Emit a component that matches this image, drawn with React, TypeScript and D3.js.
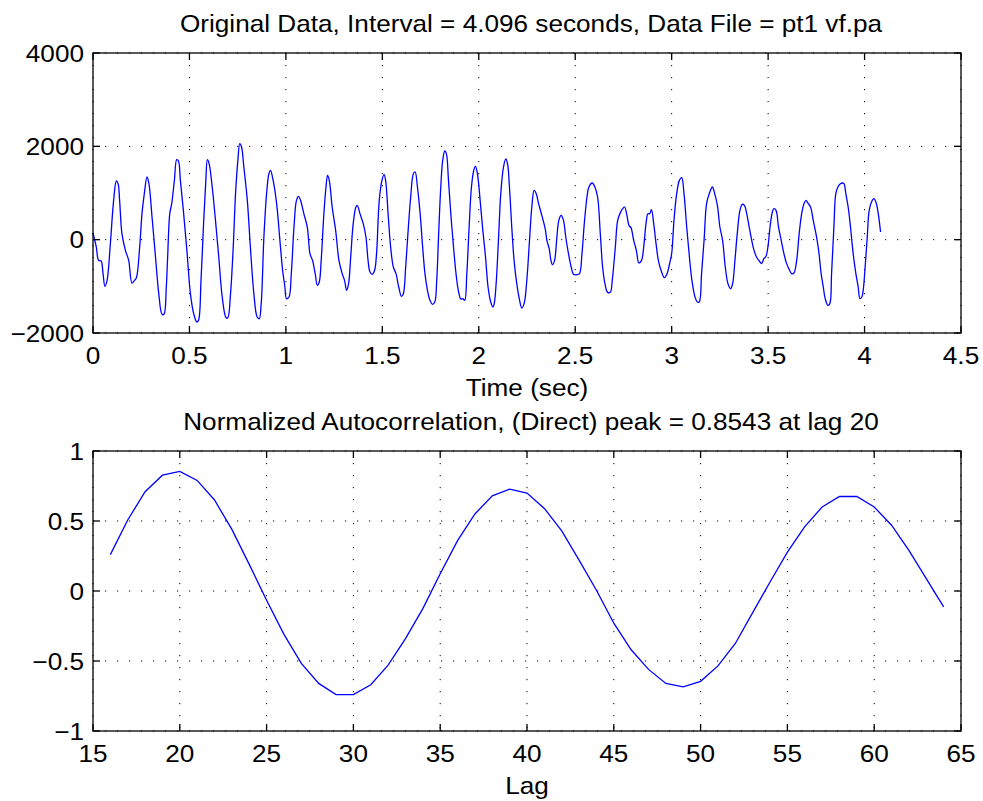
import React from "react";
import * as d3 from "d3";

const W = 983;
const H = 801;
const FONT = "'Liberation Sans', Arial, Helvetica, sans-serif";
const STRETCH = 1.09; // reference glyphs are a bit wider than Arial

// top panel: raw signal (time in seconds, amplitude)
const timeSec = [
  0, 0.017, 0.029, 0.042, 0.052, 0.062, 0.073, 0.09, 0.107, 0.121, 0.13, 0.138, 0.15, 0.168, 0.185,
  0.202, 0.215, 0.225, 0.242, 0.254, 0.266, 0.28, 0.29, 0.306, 0.324, 0.341, 0.358, 0.368, 0.38,
  0.387, 0.398, 0.408, 0.422, 0.434, 0.443, 0.453, 0.47, 0.488, 0.505, 0.522, 0.538, 0.547, 0.56,
  0.574, 0.585, 0.593, 0.602, 0.618, 0.635, 0.652, 0.67, 0.69, 0.699, 0.713, 0.727, 0.739, 0.751,
  0.761, 0.77, 0.782, 0.8, 0.817, 0.834, 0.851, 0.862, 0.872, 0.886, 0.9, 0.912, 0.92, 0.934, 0.952,
  0.969, 0.983, 0.995, 1.003, 1.016, 1.028, 1.042, 1.055, 1.066, 1.076, 1.093, 1.111, 1.125, 1.138,
  1.152, 1.163, 1.173, 1.183, 1.197, 1.208, 1.216, 1.225, 1.24, 1.258, 1.275, 1.292, 1.304, 1.315,
  1.325, 1.336, 1.349, 1.363, 1.37, 1.384, 1.401, 1.415, 1.426, 1.436, 1.448, 1.46, 1.47, 1.484,
  1.498, 1.509, 1.517, 1.531, 1.543, 1.557, 1.571, 1.585, 1.599, 1.609, 1.621, 1.635, 1.647, 1.661,
  1.67, 1.682, 1.696, 1.709, 1.721, 1.734, 1.747, 1.76, 1.772, 1.782, 1.792, 1.803, 1.813, 1.824,
  1.832, 1.843, 1.855, 1.869, 1.882, 1.894, 1.907, 1.917, 1.927, 1.938, 1.95, 1.962, 1.974, 1.983,
  1.993, 2.007, 2.021, 2.035, 2.048, 2.062, 2.073, 2.08, 2.09, 2.102, 2.114, 2.128, 2.14, 2.149,
  2.159, 2.171, 2.183, 2.197, 2.211, 2.223, 2.235, 2.249, 2.263, 2.275, 2.287, 2.298, 2.31, 2.322,
  2.336, 2.346, 2.353, 2.365, 2.374, 2.382, 2.393, 2.405, 2.415, 2.427, 2.439, 2.451, 2.465, 2.479,
  2.491, 2.509, 2.522, 2.535, 2.547, 2.561, 2.571, 2.588, 2.602, 2.616, 2.63, 2.642, 2.654, 2.668,
  2.682, 2.692, 2.708, 2.72, 2.734, 2.746, 2.756, 2.768, 2.779, 2.789, 2.803, 2.817, 2.83, 2.844,
  2.855, 2.867, 2.877, 2.886, 2.895, 2.907, 2.919, 2.931, 2.945, 2.962, 2.976, 2.99, 3.0, 3.012,
  3.026, 3.04, 3.052, 3.064, 3.078, 3.092, 3.105, 3.121, 3.133, 3.143, 3.155, 3.168, 3.181, 3.195,
  3.211, 3.223, 3.237, 3.25, 3.264, 3.278, 3.292, 3.306, 3.316, 3.328, 3.34, 3.354, 3.366, 3.377,
  3.389, 3.402, 3.415, 3.427, 3.44, 3.454, 3.466, 3.478, 3.489, 3.499, 3.51, 3.522, 3.53, 3.541,
  3.554, 3.568, 3.582, 3.596, 3.61, 3.622, 3.634, 3.648, 3.661, 3.674, 3.686, 3.696, 3.706, 3.72,
  3.734, 3.748, 3.762, 3.775, 3.786, 3.796, 3.81, 3.82, 3.829, 3.841, 3.851, 3.862, 3.872, 3.883,
  3.893, 3.903, 3.915, 3.927, 3.941, 3.955, 3.967, 3.976, 3.986, 3.993, 4.003, 4.014, 4.024, 4.036,
  4.048, 4.059, 4.071, 4.083,
];
const amplitude = [
  143, -157, -443, -457, -729, -1000, -871, -86, 843, 1257, 1200, 843, 129, -229, -443,
  -929, -871, -814, -157, 557, 986, 1343, 1200, 486, -371, -1157, -1600, -1600, -1014,
  -371, 557, 771, 1271, 1714, 1686, 1271, 557, -300, -1157, -1586, -1764, -1729, -871,
  414, 1271, 1714, 1629, 1129, 414, -371, -1229, -1671, -1671, -1157, -157, 986, 1700,
  2057, 1986, 1557, 843, -229, -1157, -1657, -1693, -1371, 57, 986, 1414, 1486, 1271, 771,
  -14, -657, -1014, -1264, -1229, -729, 271, 843, 929, 843, 557, 271, -300, -443,
  -729, -979, -907, -443, 557, 1129, 1379, 1271, 700, 200, -443, -729, -871, -1086,
  -943, -371, 343, 700, 736, 557, 343, 57, -443, -693, -743, -657, -300, 843,
  1271, 1400, 1271, 486, -157, -586, -729, -1014, -1214, -1157, -586, 271, 914, 1414,
  1450, 1129, 557, -157, -729, -1086, -1300, -1386, -1336, -871, 129, 1129, 1700, 1900,
  1843, 1271, 557, -157, -729, -1086, -1271, -1264, -1300, -729, 271, 1129, 1486, 1571,
  1414, 843, 200, -371, -1014, -1336, -1443, -1371, -943, -14, 986, 1557, 1729, 1629,
  1129, 271, -443, -943, -1286, -1464, -1371, -871, -14, 700, 1057, 986, 771, 593,
  379, 200, -14, -193, -443, -536, -443, 57, 414, 521, 414, 57, -300, -586,
  -743, -750, -729, -300, 343, 914, 1129, 1214, 1129, 914, 129, -586, -943, -1129,
  -1129, -871, -157, 414, 579, 664, 700, 521, 300, 257, -14, -229, -500, -443,
  -157, 343, 557, 557, 643, 343, -86, -443, -657, -814, -729, -500, -300, 414,
  986, 1271, 1329, 986, 271, -371, -871, -1229, -1336, -1336, -729, -14, 771, 986,
  1129, 986, 736, 271, -14, -586, -943, -1050, -943, -443, 129, 629, 757, 736,
  557, 271, -14, -229, -371, -457, -514, -407, -357, -157, 271, 593, 664, 629,
  271, -14, -300, -514, -643, -729, -714, -443, 129, 557, 771, 843, 786, 700,
  414, 129, -229, -729, -1014, -1264, -1407, -1371, -729, 271, 986, 1129, 1186, 1214,
  1200, 986, 700, 271, -300, -729, -1014, -1264, -1229, -1086, -586, 57, 629, 807,
  879, 807, 557, 164,
];
const timeTicks = [0, 0.5, 1, 1.5, 2, 2.5, 3, 3.5, 4, 4.5];
const timeTickLabels = ["0", "0.5", "1", "1.5", "2", "2.5", "3", "3.5", "4", "4.5"];
const ampTicks = [-2000, 0, 2000, 4000];
const ampTickLabels = ["\u22122000", "0", "2000", "4000"];

// bottom panel: normalized autocorrelation by lag
const lags = [
  16, 17, 18, 19, 20, 21, 22, 23, 24, 25, 26, 27, 28, 29, 30, 31, 32, 33, 34, 35, 36, 37, 38, 39, 40,
  41, 42, 43, 44, 45, 46, 47, 48, 49, 50, 51, 52, 53, 54, 55, 56, 57, 58, 59, 60, 61, 62, 63, 64,
];
const autocorr = [
  0.26, 0.507, 0.709, 0.827, 0.854, 0.79, 0.65, 0.44, 0.19, -0.066, -0.31, -0.517, -0.66, -0.74,
  -0.74, -0.67, -0.53, -0.34, -0.126, 0.123, 0.36, 0.55, 0.68, 0.727, 0.7,
  0.59, 0.43, 0.22, 0.005, -0.23, -0.42, -0.56, -0.66, -0.685, -0.645, -0.535, -0.375, -0.154,
  0.064, 0.277, 0.46, 0.6, 0.675, 0.675, 0.6, 0.47, 0.29, 0.088, -0.114,
];
const lagTicks = [15, 20, 25, 30, 35, 40, 45, 50, 55, 60, 65];
const lagTickLabels = ["15", "20", "25", "30", "35", "40", "45", "50", "55", "60", "65"];
const corrTicks = [-1, -0.5, 0, 0.5, 1];
const corrTickLabels = ["\u22121", "\u22120.5", "0", "0.5", "1"];

type Anchor = "start" | "middle" | "end";

const Label = ({ x, y, anchor, children }: { x: number; y: number; anchor: Anchor; children: React.ReactNode }) => (
  <text transform={`translate(${x},${y}) scale(${STRETCH},1)`} textAnchor={anchor}>
    {children}
  </text>
);

type PanelProps = {
  top: number;
  bottom: number;
  left: number;
  right: number;
  xDomain: [number, number];
  yDomain: [number, number];
  xs: number[];
  ys: number[];
  xTicks: number[];
  xLabels: string[];
  yTicks: number[];
  yLabels: string[];
  title: string;
  xTitle: string;
  smooth: boolean;
};

const Panel = (p: PanelProps) => {
  const x = d3.scaleLinear().domain(p.xDomain).range([p.left, p.right]);
  const y = d3.scaleLinear().domain(p.yDomain).range([p.bottom, p.top]);
  const pts: [number, number][] = p.xs.map((v, i) => [v, p.ys[i]]);
  const line = d3
    .line<[number, number]>()
    .x((d) => x(d[0]))
    .y((d) => y(d[1]))
    .curve(p.smooth ? d3.curveCatmullRom.alpha(0.5) : d3.curveLinear);
  const tickLen = 7;
  const cx = (p.left + p.right) / 2;
  return (
    <g fontFamily={FONT} fontSize={24} fill="#000">
      {/* dotted grid */}
      {p.xTicks.map((t) => (
        <line key={"gx" + t} x1={x(t)} x2={x(t)} y1={p.top} y2={p.bottom}
          stroke="#000" strokeWidth={1} strokeDasharray="1.2 10.8" />
      ))}
      {p.yTicks.map((t) => (
        <line key={"gy" + t} x1={p.left} x2={p.right} y1={y(t)} y2={y(t)}
          stroke="#000" strokeWidth={1} strokeDasharray="1.2 10.8" />
      ))}
      <path d={line(pts) || ""} fill="none" stroke="#0000ff" strokeWidth={1.3} />
      {/* box and inward ticks */}
      <rect x={p.left} y={p.top} width={p.right - p.left} height={p.bottom - p.top}
        fill="none" stroke="#000" strokeWidth={1.3} />
      {p.xTicks.map((t) => (
        <g key={"tx" + t} stroke="#000" strokeWidth={1.3}>
          <line x1={x(t)} x2={x(t)} y1={p.bottom} y2={p.bottom - tickLen} />
          <line x1={x(t)} x2={x(t)} y1={p.top} y2={p.top + tickLen} />
        </g>
      ))}
      {p.yTicks.map((t) => (
        <g key={"ty" + t} stroke="#000" strokeWidth={1.3}>
          <line x1={p.left} x2={p.left + tickLen} y1={y(t)} y2={y(t)} />
          <line x1={p.right} x2={p.right - tickLen} y1={y(t)} y2={y(t)} />
        </g>
      ))}
      {p.xTicks.map((t, i) => (
        <Label key={"lx" + t} x={x(t)} y={p.bottom + 31} anchor="middle">
          {p.xLabels[i]}
        </Label>
      ))}
      {p.yTicks.map((t, i) => (
        <Label key={"ly" + t} x={p.left - 9} y={y(t) + 8.6} anchor="end">
          {p.yLabels[i]}
        </Label>
      ))}
      <Label x={cx + 4} y={p.top - 21.5} anchor="middle">{p.title}</Label>
      <Label x={cx} y={p.bottom + 63} anchor="middle">{p.xTitle}</Label>
    </g>
  );
};

export default function App() {
  return (
    <svg width={W} height={H} style={{ position: "absolute", left: 0, top: 0, background: "#fff" }}>
      <rect width={W} height={H} fill="#fff" />
      <Panel
        top={53} bottom={333} left={93} right={961}
        xDomain={[0, 4.5]} yDomain={[-2000, 4000]}
        xs={timeSec} ys={amplitude}
        xTicks={timeTicks} xLabels={timeTickLabels}
        yTicks={ampTicks} yLabels={ampTickLabels}
        title="Original Data, Interval = 4.096 seconds, Data File = pt1 vf.pa"
        xTitle="Time (sec)"
        smooth={true}
      />
      <Panel
        top={451} bottom={731} left={93} right={961}
        xDomain={[15, 65]} yDomain={[-1, 1]}
        xs={lags} ys={autocorr}
        xTicks={lagTicks} xLabels={lagTickLabels}
        yTicks={corrTicks} yLabels={corrTickLabels}
        title="Normalized Autocorrelation, (Direct) peak = 0.8543 at lag 20"
        xTitle="Lag"
        smooth={false}
      />
    </svg>
  );
}
